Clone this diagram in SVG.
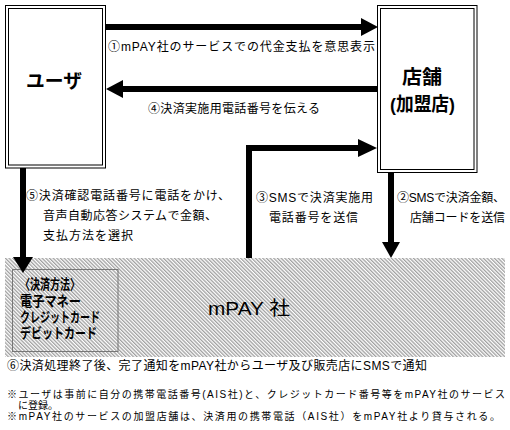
<svg xmlns="http://www.w3.org/2000/svg" width="510" height="430" viewBox="0 0 510 430">
<style>
text{font-family:"Liberation Sans","Noto Sans CJK JP",sans-serif;fill:#000}
.lb{font-size:12px}
.nt{font-size:10px}
.bx{font-size:19px;font-weight:bold}
.pm{font-size:14px;font-weight:bold}
.box{fill:#fff;stroke:#000;stroke-width:1}
.ln{stroke:#000;stroke-width:6;fill:none}
.hd{fill:#000}
</style>
<defs>
<pattern id="hatch" width="2.6" height="2.6" patternUnits="userSpaceOnUse" patternTransform="rotate(-45)">
<rect width="2.6" height="2.6" fill="#fff"/>
<rect width="1.3" height="2.6" fill="#a0a0a0"/>
</pattern>
</defs>
<rect width="510" height="430" fill="#fff"/>

<g id="mpay">
<rect x="5" y="258" width="500" height="99" fill="url(#hatch)"/>
<text x="208" y="315" style="font-size:19px" textLength="82" lengthAdjust="spacingAndGlyphs">mPAY 社</text>
</g>

<g id="payment-methods">
<rect x="12.5" y="269.5" width="105.5" height="82" fill="none" stroke="#777" stroke-width="1"/>
<text class="pm" x="20" y="289" textLength="60" lengthAdjust="spacingAndGlyphs">〈決済方法〉</text>
<text class="pm" x="20" y="306" textLength="61" lengthAdjust="spacingAndGlyphs">電子マネー</text>
<text class="pm" x="20" y="322" textLength="80" lengthAdjust="spacingAndGlyphs">クレジットカード</text>
<text class="pm" x="20" y="338" textLength="77" lengthAdjust="spacingAndGlyphs">デビットカード</text>
</g>

<g id="user">
<rect class="box" x="5.5" y="5.5" width="100" height="162.5"/>
<rect class="box" x="8.5" y="8.5" width="94" height="156.5"/>
<text class="bx" x="26" y="88" textLength="56" lengthAdjust="spacingAndGlyphs">ユーザ</text>
</g>

<g id="store">
<rect class="box" x="377.5" y="5.5" width="99.5" height="167"/>
<rect class="box" x="380.5" y="8.5" width="93.5" height="161"/>
<text class="bx" x="402" y="84" textLength="40" lengthAdjust="spacingAndGlyphs">店舗</text>
<text class="bx" x="390" y="111" textLength="65" lengthAdjust="spacingAndGlyphs">(加盟店)</text>
</g>

<g id="connectors">
<line class="ln" x1="106" y1="27" x2="362" y2="27"/>
<polygon class="hd" points="361,18 378,27 361,36"/>
<line class="ln" x1="377" y1="89" x2="122" y2="89"/>
<polygon class="hd" points="123,80 106,89 123,98"/>
<polyline class="ln" points="249,258 249,148 360,148"/>
<polygon class="hd" points="358,139 377,148 358,157"/>
<line class="ln" x1="391" y1="173" x2="391" y2="244"/>
<polygon class="hd" points="382,242 391,258 400,242"/>
<line class="ln" x1="23" y1="168" x2="23" y2="259"/>
<polygon class="hd" points="13,257 23,273 33,257"/>
</g>

<g id="labels">
<text class="lb" x="108" y="51" textLength="267" lengthAdjust="spacing">①mPAY社のサービスでの代金支払を意思表示</text>
<text class="lb" x="148" y="113" textLength="172" lengthAdjust="spacing">④決済実施用電話番号を伝える</text>
<text class="lb" x="26" y="200" textLength="204" lengthAdjust="spacing">⑤決済確認電話番号に電話をかけ、</text>
<text class="lb" x="43" y="220" textLength="174" lengthAdjust="spacing">音声自動応答システムで金額、</text>
<text class="lb" x="43" y="240" textLength="90" lengthAdjust="spacing">支払方法を選択</text>
<text class="lb" x="256" y="202" textLength="117" lengthAdjust="spacing">③SMSで決済実施用</text>
<text class="lb" x="269" y="222" textLength="89" lengthAdjust="spacing">電話番号を送信</text>
<text class="lb" x="397" y="202" textLength="108" lengthAdjust="spacing">②SMSで決済金額、</text>
<text class="lb" x="410" y="222" textLength="95" lengthAdjust="spacing">店舗コードを送信</text>
<text class="lb" x="7" y="370" textLength="420" lengthAdjust="spacing">⑥決済処理終了後、完了通知をmPAY社からユーザ及び販売店にSMSで通知</text>
<text class="nt" x="7" y="398" textLength="498" lengthAdjust="spacing">※ユーザは事前に自分の携帯電話番号(AIS社)と、クレジットカード番号等をmPAY社のサービス</text>
<text class="nt" x="18" y="409">に登録。</text>
<text class="nt" x="7" y="420" textLength="493" lengthAdjust="spacing">※mPAY社のサービスの加盟店舗は、決済用の携帯電話（AIS社）をmPAY社より貸与される。</text>
</g>
</svg>
